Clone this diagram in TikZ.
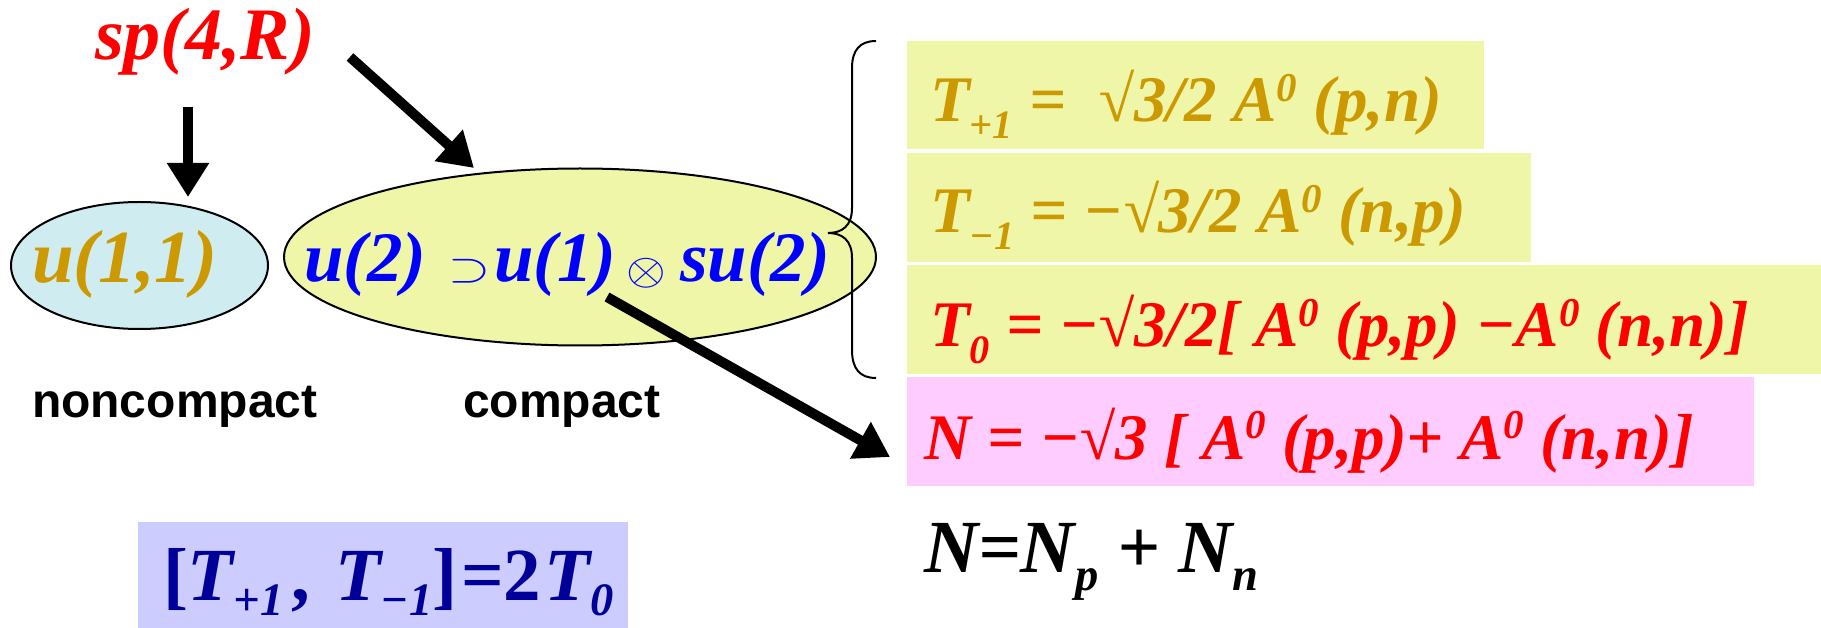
\documentclass[tikz,border=0pt]{standalone}
\usepackage{fontspec}
\usepackage{graphicx}
\setmainfont{Liberation Serif}
\newfontfamily\arialfont{Liberation Sans}
\usetikzlibrary{arrows.meta,shapes.geometric}
\definecolor{gold}{RGB}{204,153,0}
\definecolor{darkblue}{RGB}{0,0,153}
\definecolor{cyanfill}{RGB}{207,236,240}
\definecolor{yelfill}{RGB}{240,246,168}
\definecolor{pinkfill}{RGB}{255,204,255}
\definecolor{lavfill}{RGB}{204,204,255}
\newcommand\lsub[1]{\raisebox{-0.25em}{\scalebox{0.62}{#1}}}
\newcommand\lsubb[1]{\raisebox{-0.21em}{\scalebox{0.62}{#1}}}
\newcommand\hsup[1]{\raisebox{0.31em}{\scalebox{0.63}{#1}}}
\newcommand\mysupsym{\scalebox{5.4}[4.1]{\fontsize{10}{12}\selectfont$\supset$}}
\newcommand\mytimessym{\raisebox{-2pt}{\scalebox{5.1}[4.5]{\fontsize{10}{12}\selectfont$\otimes$}}}
\tikzset{
  txt/.style={inner sep=0pt, outer sep=0pt, anchor=base west},
  tnr/.style={font=\fontsize{#1}{#1}\selectfont\bfseries\itshape},
  sans/.style={font=\fontsize{#1}{#1}\selectfont\arialfont\bfseries},
  bigarrow/.style={line width=10pt, -{Triangle[length=34pt,width=40pt]}},
  bx/.style={draw=none, inner sep=0pt, outer sep=0pt, anchor=north west},
  ell/.style={ellipse, draw=black, line width=2pt, inner sep=0pt}
}
\begin{document}
\begin{tikzpicture}[x=1pt,y=-1pt]
\useasboundingbox (0,0) rectangle (1821,628);
% ellipses
\node[ell, fill=cyanfill, minimum width=257pt, minimum height=127pt] (u11) at (139.5,265.5) {};
\node[ell, fill=yelfill, minimum width=592pt, minimum height=177pt] (u2) at (580,257) {};
% boxes
\node[bx, fill=yelfill, minimum width=577pt, minimum height=108pt] (b1) at (907,41) {};
\node[bx, fill=yelfill, minimum width=624pt, minimum height=109pt] (b2) at (907,153) {};
\node[bx, fill=yelfill, minimum width=914pt, minimum height=109pt] (b3) at (907,265) {};
\node[bx, fill=pinkfill, minimum width=847pt, minimum height=109pt] (b4) at (907,377) {};
\node[bx, fill=lavfill, minimum width=490pt, minimum height=106pt] (b5) at (138,522) {};
% texts
\node[txt, tnr=74, text=red] (sp) at (95,60) {sp(4,R)};
\node[txt, tnr=75, text=gold] (u11t) at (32,283) {u(1,1)};
\node[txt, tnr=71, text=blue] (u2t) at (304,282) {u(2)\hspace{22pt}\mysupsym\hspace{4pt}u(1)\hspace{10pt}\mytimessym\hspace{14pt}su(2)};
\node[txt, sans=48] (nc) at (32,417) {noncompact};
\node[txt, sans=48] (cp) at (463,417) {compact};
\node[txt, tnr=65, text=gold] (t1) at (930,122) {T\lsub{+1} =\ \ √3/2 A\hsup{0} (p,n)};
\node[txt, tnr=65, text=gold] (t2) at (930,233) {T\lsub{−1} = −√3/2 A\hsup{0} (n,p)};
\node[txt, tnr=65, text=red] (t3) at (930,347) {T\lsub{0} = −√3/2[ A\hsup{0} (p,p) −A\hsup{0} (n,n)]};
\node[txt, tnr=65, text=red] (t4) at (924,459) {N = −√3 [ A\hsup{0} (p,p)+ A\hsup{0} (n,n)]};
\node[txt, tnr=75] (nn) at (924,572) {N=N\lsub{p} + N\lsub{n}};
\node[txt, font=\fontsize{75}{75}\selectfont\bfseries, text=darkblue] (cm) at (163,600) {[\textit{T\lsubb{+1}}\hspace{8pt},\hspace{6pt} \textit{T\lsubb{−1}}]\hspace{4pt}=2\hspace{3pt}\textit{T\lsubb{0}}};
% brace
\draw[line width=2pt] (876,41) .. controls (860,41) and (852,50) .. (852,68) -- (852,208)
  .. controls (852,226) and (842,233) .. (828,233)
  .. controls (842,233) and (852,240) .. (852,258) -- (852,350)
  .. controls (852,369) and (860,378) .. (876,378);
% arrows
\coordinate (a1s) at (188,107);
\coordinate (a1e) at (188,197);
\coordinate (a2s) at (350,57);
\coordinate (a2e) at (474,168);
\coordinate (a3s) at (607,297);
\coordinate (a3e) at (890,457);
\draw[bigarrow] (a1s) -- (a1e);
\draw[bigarrow] (a2s) -- (a2e);
\draw[bigarrow] (a3s) -- (a3e);
\end{tikzpicture}
\end{document}
